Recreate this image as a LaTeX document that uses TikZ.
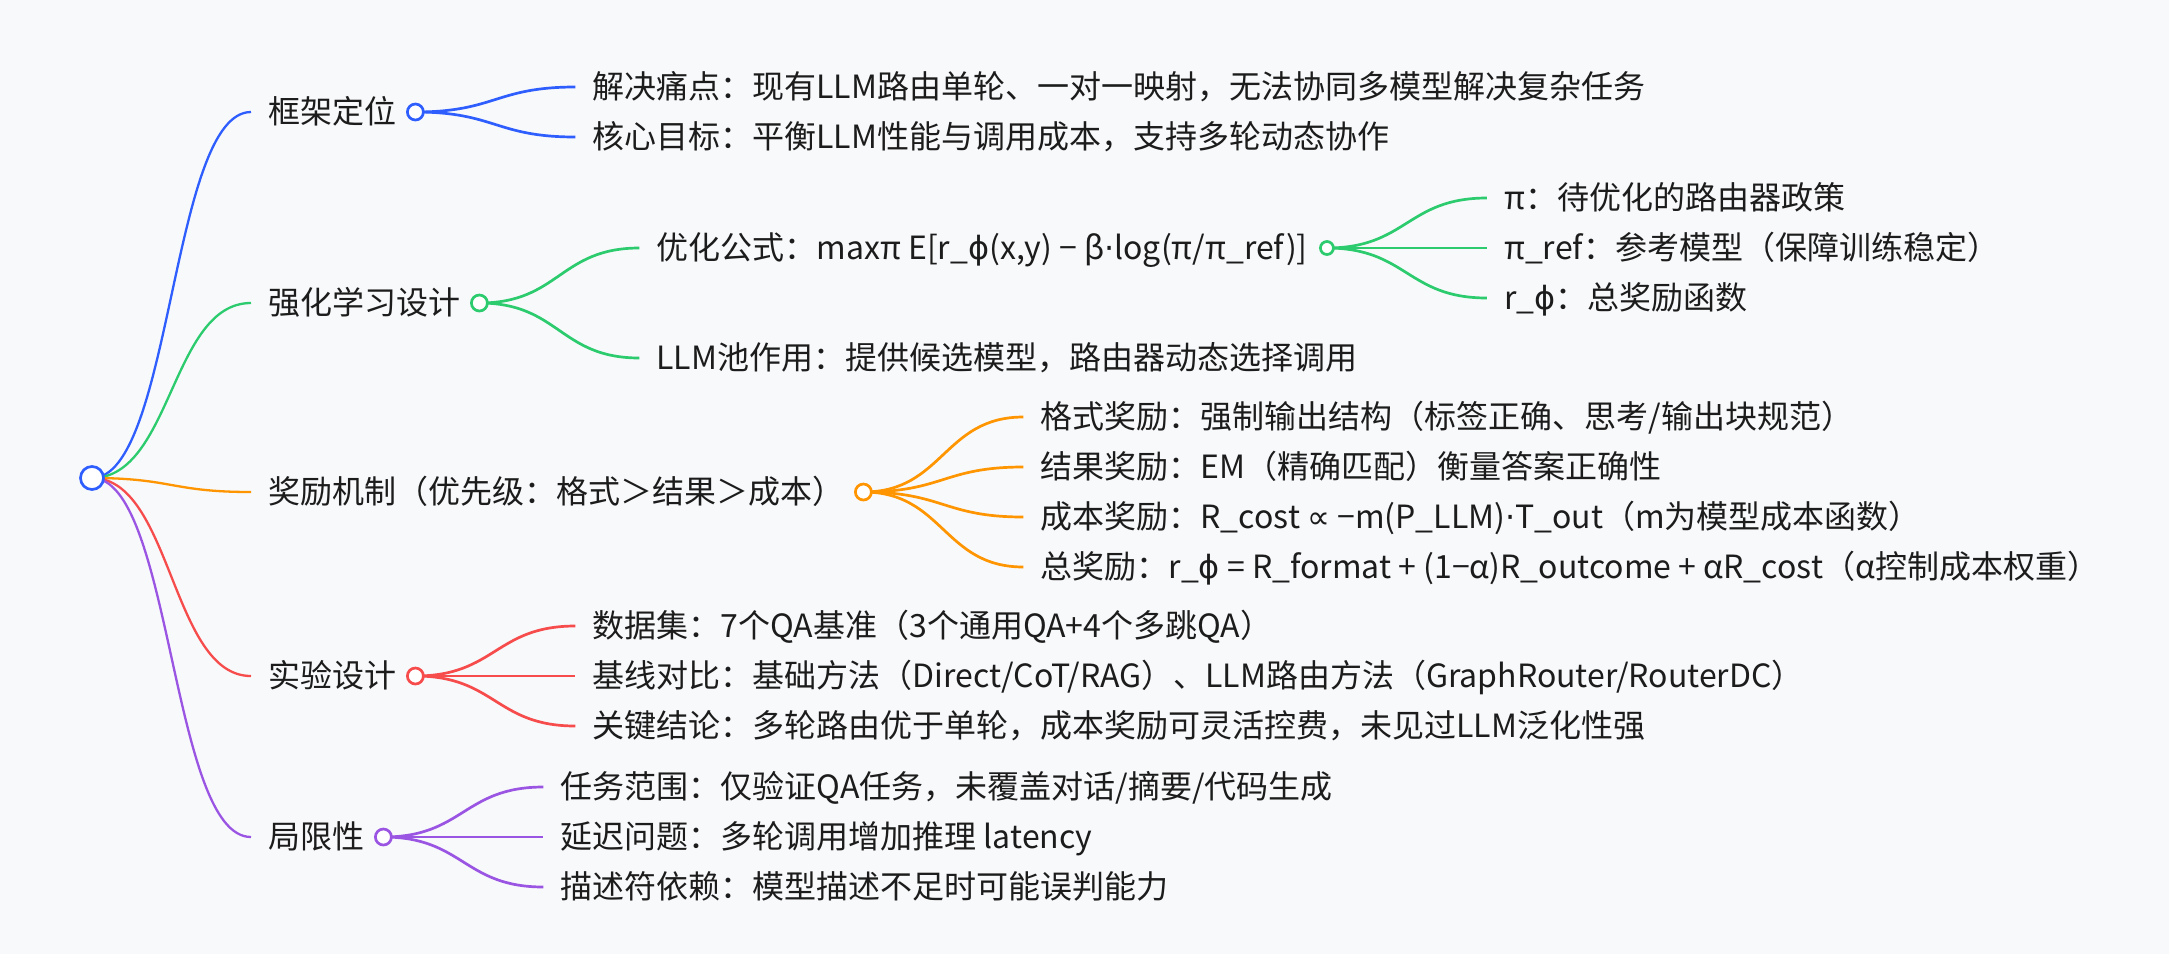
\documentclass[tikz,border=0pt]{standalone}
\usepackage{fontspec}
\setmainfont{Noto Sans CJK SC}
\newfontfamily\symfont{DejaVu Sans}
\usetikzlibrary{positioning}

\definecolor{paper}{HTML}{F8F9FB}
\definecolor{ink}{HTML}{1C1C1C}
\definecolor{cblue}{HTML}{2F5EFF}
\definecolor{cgreen}{HTML}{2BCB6E}
\definecolor{corange}{HTML}{FF9500}
\definecolor{cred}{HTML}{F64C4C}
\definecolor{cpurple}{HTML}{9B55E3}

\newcommand{\phiv}{{\symfont ϕ}}
\newcommand{\propsym}{{\symfont ∝}}
\newcommand{\middot}{{\symfont ·}}

\tikzset{
	topic/.style={anchor=west, inner sep=0pt, text=ink, text height=22pt, text depth=0pt,
		font=\fontsize{32pt}{38pt}\selectfont},
	knot/.style={circle, draw=#1, fill=white, line width=2.7pt, minimum size=16pt, inner sep=0pt},
	rootknot/.style={circle, draw=#1, fill=white, line width=2.7pt, minimum size=23pt, inner sep=0pt},
	stem/.style={draw=#1, line width=2.3pt},
	twig/.style={draw=#1, line width=2.7pt}
}

\begin{document}
\begin{tikzpicture}[x=1pt, y=-1pt]
				\fill[paper] (0,0) rectangle (2169,954);
				\coordinate (root) at (92,478);
				% first level
				\node[topic] (frame) at (268,112) {框架定位};
				\node[topic] (learn) at (268,303) {强化学习设计};
				\node[topic] (reward) at (268,492) {奖励机制（优先级：格式＞结果＞成本）};
				\node[topic] (trial) at (268,676) {实验设计};
				\node[topic] (limit) at (268,837) {局限性};
				\coordinate[right=19pt of frame] (frame-k);
				\coordinate[right=19pt of learn] (learn-k);
				\coordinate[right=19pt of reward] (reward-k);
				\coordinate[right=19pt of trial] (trial-k);
				\coordinate[right=19pt of limit] (limit-k);
				% second level
				\node[topic, right=177pt of frame-k, yshift=25pt] (pain) {解决痛点：现有LLM路由单轮、一对一映射，无法协同多模型解决复杂任务};
				\node[topic, right=177pt of frame-k, yshift=-25pt] (goal) {核心目标：平衡LLM性能与调用成本，支持多轮动态协作};
				\node[topic, right=177pt of learn-k, yshift=55pt] (formula) {优化公式：maxπ E[r\_\phiv(x,y) − β\middot{}log(π/π\_ref)]};
				\node[topic, right=177pt of learn-k, yshift=-55pt] (pool) {LLM池作用：提供候选模型，路由器动态选择调用};
				\coordinate[right=19pt of formula] (formula-k);
				\node[topic, right=177pt of formula-k, yshift=50pt] (policy) {π：待优化的路由器政策};
				\node[topic, right=177pt of formula-k] (refm) {π\_ref：参考模型（保障训练稳定）};
				\node[topic, right=177pt of formula-k, yshift=-50pt] (total) {r\_\phiv：总奖励函数};
				\node[topic, right=177pt of reward-k, yshift=75pt] (fmt) {格式奖励：强制输出结构（标签正确、思考/输出块规范）};
				\node[topic, right=177pt of reward-k, yshift=25pt] (outc) {结果奖励：EM（精确匹配）衡量答案正确性};
				\node[topic, right=177pt of reward-k, yshift=-25pt] (cost) {成本奖励：R\_cost \propsym{} −m(P\_LLM)\middot{}T\_out（m为模型成本函数）};
				\node[topic, right=177pt of reward-k, yshift=-75pt] (sum) {总奖励：r\_\phiv{} = R\_format + (1−α)R\_outcome + αR\_cost（α控制成本权重）};
				\node[topic, right=177pt of trial-k, yshift=50pt] (data) {数据集：7个QA基准（3个通用QA+4个多跳QA）};
				\node[topic, right=177pt of trial-k] (base) {基线对比：基础方法（Direct/CoT/RAG）、LLM路由方法（GraphRouter/RouterDC）};
				\node[topic, right=177pt of trial-k, yshift=-50pt] (concl) {关键结论：多轮路由优于单轮，成本奖励可灵活控费，未见过LLM泛化性强};
				\node[topic, right=177pt of limit-k, yshift=50pt] (scope) {任务范围：仅验证QA任务，未覆盖对话/摘要/代码生成};
				\node[topic, right=177pt of limit-k] (delay) {延迟问题：多轮调用增加推理 latency};
				\node[topic, right=177pt of limit-k, yshift=-50pt] (desc) {描述符依赖：模型描述不足时可能误判能力};
				% connectors
				\draw[stem=cblue] (root) .. controls +(80,0) and +(-80,0) .. ([xshift=-17pt]frame.west);
				\draw[stem=cgreen] (root) .. controls +(80,0) and +(-80,0) .. ([xshift=-17pt]learn.west);
				\draw[stem=corange] (root) .. controls +(80,0) and +(-80,0) .. ([xshift=-17pt]reward.west);
				\draw[stem=cred] (root) .. controls +(80,0) and +(-80,0) .. ([xshift=-17pt]trial.west);
				\draw[stem=cpurple] (root) .. controls +(80,0) and +(-80,0) .. ([xshift=-17pt]limit.west);
				\draw[twig=cblue] (frame-k) .. controls +(80,0) and +(-80,0) .. ([xshift=-17pt]pain.west);
				\draw[twig=cblue] (frame-k) .. controls +(80,0) and +(-80,0) .. ([xshift=-17pt]goal.west);
				\draw[twig=cgreen] (learn-k) .. controls +(80,0) and +(-80,0) .. ([xshift=-17pt]formula.west);
				\draw[twig=cgreen] (learn-k) .. controls +(80,0) and +(-80,0) .. ([xshift=-17pt]pool.west);
				\draw[twig=cgreen] (formula-k) .. controls +(80,0) and +(-80,0) .. ([xshift=-17pt]policy.west);
				\draw[twig=cgreen] (formula-k) -- ([xshift=-17pt]refm.west);
				\draw[twig=cgreen] (formula-k) .. controls +(80,0) and +(-80,0) .. ([xshift=-17pt]total.west);
				\draw[twig=corange] (reward-k) .. controls +(80,0) and +(-80,0) .. ([xshift=-17pt]fmt.west);
				\draw[twig=corange] (reward-k) .. controls +(80,0) and +(-80,0) .. ([xshift=-17pt]outc.west);
				\draw[twig=corange] (reward-k) .. controls +(80,0) and +(-80,0) .. ([xshift=-17pt]cost.west);
				\draw[twig=corange] (reward-k) .. controls +(80,0) and +(-80,0) .. ([xshift=-17pt]sum.west);
				\draw[twig=cred] (trial-k) .. controls +(80,0) and +(-80,0) .. ([xshift=-17pt]data.west);
				\draw[twig=cred] (trial-k) -- ([xshift=-17pt]base.west);
				\draw[twig=cred] (trial-k) .. controls +(80,0) and +(-80,0) .. ([xshift=-17pt]concl.west);
				\draw[twig=cpurple] (limit-k) .. controls +(80,0) and +(-80,0) .. ([xshift=-17pt]scope.west);
				\draw[twig=cpurple] (limit-k) -- ([xshift=-17pt]delay.west);
				\draw[twig=cpurple] (limit-k) .. controls +(80,0) and +(-80,0) .. ([xshift=-17pt]desc.west);
				% circles on top
				\node[rootknot=cblue] (root-o) at (root) {};
				\node[knot=cblue] (frame-o) at (frame-k) {};
				\node[knot=cgreen] (learn-o) at (learn-k) {};
				\node[knot=cgreen, minimum size=13pt] (formula-o) at (formula-k) {};
				\node[knot=corange] (reward-o) at (reward-k) {};
				\node[knot=cred] (trial-o) at (trial-k) {};
				\node[knot=cpurple] (limit-o) at (limit-k) {};
\end{tikzpicture}
\end{document}
